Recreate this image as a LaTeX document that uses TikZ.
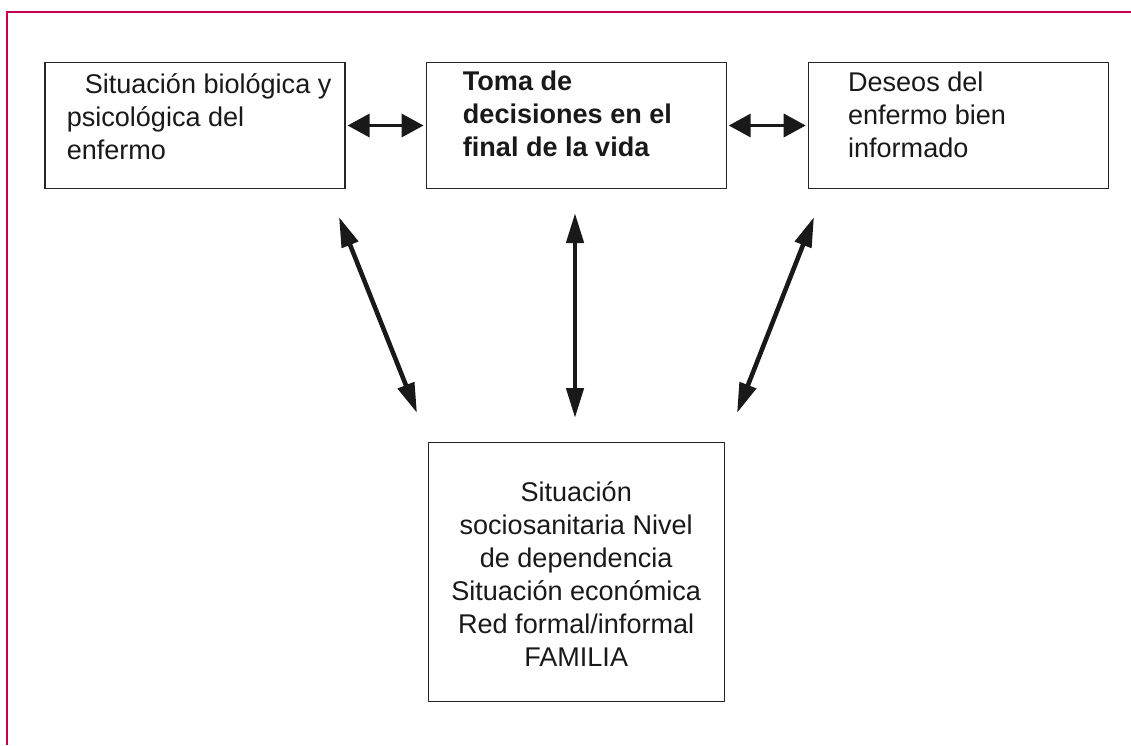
\documentclass[tikz,border=0pt]{standalone}
\usepackage{fontspec}
\setmainfont{Liberation Sans}
\usetikzlibrary{arrows.meta,positioning}
\definecolor{framepink}{RGB}{200,0,80}
\tikzset{
    box/.style={
        rectangle,
        draw=black!85,
        line width=0.7pt,
        minimum width=6cm,
        minimum height=2.52cm,
    },
    boxtext/.style={
        inner sep=0pt,
        align=left,
        font=\fontsize{15.4}{18.8}\selectfont,
        text=black!90,
    },
    link/.style={
        draw=black!90,
        line width=2.6pt,
        {Triangle[length=0.6cm,width=0.34cm]}-{Triangle[length=0.6cm,width=0.34cm]},
    },
    sidelink/.style={
        draw=black!90,
        line width=2pt,
        {Triangle[length=0.44cm,width=0.46cm]}-{Triangle[length=0.44cm,width=0.46cm]},
        shorten <=0.04cm,
        shorten >=0.04cm,
    },
    node distance=1.6cm,
}
\begin{document}
\begin{tikzpicture}[x=0.02cm,y=-0.02cm]
    \useasboundingbox (0,0) rectangle (1131,745);
    \draw[framepink, line width=0.7pt] (7,745) -- (7,12) -- (1131,12);

    % top row
    \node [box] (bio) at (195,125.5) {};
    \node [box, right=1.6cm of bio] (dec) {};
    \node [box, right=1.62cm of dec] (des) {};
    % bottom box
    \node [box, minimum width=5.92cm, minimum height=5.18cm, below=5.06cm of dec] (soc) {};

    \node [boxtext, anchor=north west] (bioText) at ([shift={(22,11)}]bio.north west)
        {\hspace*{0.36cm}Situación biológica y\\psicológica del\\enfermo};
    \node [boxtext, anchor=north west, font=\fontsize{15.4}{18.8}\selectfont\bfseries] (decText) at ([shift={(37,9)}]dec.north west)
        {Toma de\\decisiones en el\\final de la vida};
    \node [boxtext, anchor=north west] (desText) at ([shift={(40,10)}]des.north west)
        {Deseos del\\enfermo bien\\informado};
    \node [boxtext, align=center, anchor=north] (socText) at ([shift={(0,39)}]soc.north)
        {Situación\\sociosanitaria Nivel\\de dependencia\\Situación económica\\Red formal/informal\\FAMILIA};

    % arrow ends
    \coordinate (bioLow) at (339,217);
    \coordinate (socLeft) at (417,413);
    \coordinate (decLow) at (575,213);
    \coordinate (socMid) at (575,418);
    \coordinate (desLow) at (814,217);
    \coordinate (socRight) at (737,413);

    \draw [sidelink] (bio.east) -- (dec.west);
    \draw [sidelink] (dec.east) -- (des.west);
    \draw [link] (bioLow) -- (socLeft);
    \draw [link] (decLow) -- (socMid);
    \draw [link] (desLow) -- (socRight);
\end{tikzpicture}
\end{document}
